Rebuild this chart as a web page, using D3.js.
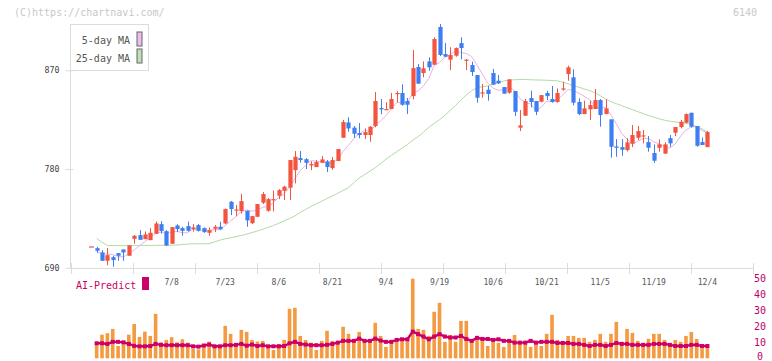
<!DOCTYPE html>
<html><head><meta charset="utf-8">
<script src="https://cdn.jsdelivr.net/npm/d3@7"></script>
<style>
body{margin:0;background:#fff}
svg{display:block}
text{font-family:"DejaVu Sans Mono",monospace}
</style>
</head><body>
<svg id="chart" width="772" height="361"></svg>
<script>
const dates = ["6/17","6/18","6/19","6/20","6/23","6/24","6/25","6/26","6/27","6/30",
"7/1","7/2","7/3","7/4","7/7","7/8","7/9","7/10","7/11","7/14","7/15","7/16","7/17","7/18","7/22","7/23",
"7/24","7/25","7/28","7/29","7/30","7/31","8/1","8/4","8/5","8/6","8/7","8/8","8/12","8/13","8/14","8/15",
"8/18","8/19","8/20","8/21","8/22","8/25","8/26","8/27","8/28","8/29","9/1","9/2","9/3","9/4","9/5","9/8",
"9/9","9/10","9/11","9/12","9/16","9/17","9/18","9/19","9/22","9/24","9/25","9/26","9/29","9/30","10/1",
"10/2","10/3","10/6","10/7","10/8","10/9","10/10","10/14","10/15","10/16","10/17","10/20","10/21","10/22",
"10/23","10/24","10/27","10/28","10/29","10/30","10/31","11/4","11/5","11/6","11/7","11/10","11/11","11/12",
"11/13","11/14","11/17","11/18","11/19","11/20","11/21","11/25","11/26","11/27","11/28","12/1","12/2","12/3","12/4"];

const open = [709.5,707.9,704,696.4,699.7,703.4,706.7,701,716.4,719.8,
716.1,715.2,721,729.8,723.4,711.9,728.6,726.2,728,725.3,
728.9,726.2,721.9,725.6,727.4,730.4,750.2,742.6,741.7,742,
730.7,736.5,749.3,742,752.3,755.7,760.2,763,779,790,
789,783.3,781.8,785.7,787,780.9,787.3,808.5,822.5,817.7,
812.8,811,811,819.2,835.6,834.1,834.7,848.7,849.3,842,
846.5,873,867.5,878.1,875.1,909.5,884.8,879.7,883.3,894.8,
879.4,874.8,865.7,849.3,852.3,867.5,860.5,854.7,849.6,851.1,
817.7,828.6,844.7,842,841.4,849.3,843.8,841.1,852.6,866.6,
863.6,841.1,830.1,834.4,834.7,842.9,830.1,825.3,800.6,800,
797.3,803.1,808.5,810,804.6,794.6,799.4,794,808.2,813.1,
818.3,822.2,831.3,819.2,804.6,800];

const high = [709.5,709.1,706.1,708,701,703.4,706.7,710.4,719.8,724.3,
723.1,726.2,732.2,732.5,724.3,727.1,729.8,727.4,732,729.8,
729.8,726.8,726.8,728.9,732,744.1,750.8,747.1,757.5,742,
737.1,748.1,759,753.5,760.5,761.7,764.8,788.2,796.4,796.4,
790,787,788.2,791.8,788.2,790.9,798.2,824.7,827.1,819.2,
821.9,817,819.2,850.2,843.8,840.8,849.3,851,857.2,844.7,
888.5,875.7,878.1,881.8,900,912.2,894.8,891,890.9,900,
880.3,877.8,865.7,857.5,855.7,871.2,865.7,854.7,861.7,851.1,
833.8,843.8,851.4,842,847.4,851.4,855.7,853.5,859.6,874.2,
870.9,844.4,842.3,842.3,852.9,843.8,843.8,825.3,807.3,807.3,
808.2,820.1,819.2,815.5,810,802.5,807,804.3,811,818.3,
824.7,830.7,831.3,819.2,808.8,814.6];

const low = [709.5,703.7,696.4,692.4,690.9,696.4,696.4,701,711.9,715.5,
716.1,715.2,721,721.3,709.8,711.9,722.5,719.2,723,723,
723,721.9,719.2,722.5,725,729.8,738,737.1,739.5,727.4,
729.8,736.5,748.1,741.1,741.4,752.6,751.7,751.7,766.9,785.7,
780,779,781.8,785.7,777.2,779.4,787.3,808.5,814,808.5,
808,807.3,804.9,818,830.1,833.8,834.7,840.8,837.7,830.1,
843.5,857.8,863.6,869.6,875.1,883,882.4,870.2,882.4,880,
870.2,864.8,840.5,845,842.3,856.9,857.5,848.7,848.7,828.3,
814.6,828.6,836.2,829.2,840.8,842.9,840.5,840.5,851.4,860.5,
838,829.2,830.1,824.7,834.7,818.6,830.1,790.3,791.2,792.1,
796.1,800,806.4,803.4,795.8,785.7,795.8,794,800.3,810,
817.1,821.6,817.7,800.3,801.9,800];

const close = [709.5,705.5,696.4,701.5,697,701,704,710.4,719.2,715.5,
720.4,721.9,730.4,723.4,710.4,727.1,725.3,723.7,723.7,726.8,
723.7,722.5,724.3,727.4,725,743.5,743.5,743.2,750.8,733.2,
737.1,748.1,757.2,752.6,752.6,760.8,763.9,788.2,791.2,788.2,
785.7,784.5,786.4,788.8,781.8,788.2,798.2,822.8,817,812.2,
811,813.7,818.6,842,834.4,834.7,843.8,849.3,838.6,838.6,
872,857.8,871.8,872.7,898.5,884,882.4,883.9,890.3,890.3,
879.7,868.4,845,849.9,848.4,856.9,858.1,848.7,861.7,832.2,
819.8,842,841.1,832.2,847.4,846.5,841.1,849.3,853.5,872.7,
840.5,830.1,835.3,838.3,842.9,829.2,835.3,800.3,799.4,797.6,
804.3,811,814.6,810.7,799.4,787.6,802.5,802.5,803.4,818.3,
823.1,830.1,818.6,801.2,801.9,813.7];

const ma5 = [null,704.5,703.0,702.5,702.0,700.3,700.0,702.8,706.3,710.0,
713.9,717.5,721.5,722.3,721.3,722.6,723.3,722.0,722.0,725.3,
724.6,724.1,724.2,724.9,724.6,728.5,732.7,736.5,741.2,742.8,
741.6,742.5,745.3,745.6,749.5,754.3,757.4,763.6,771.3,778.5,
783.4,787.6,787.2,786.7,785.4,785.9,788.7,796.0,801.6,807.7,
812.2,815.3,814.5,819.5,823.9,828.7,834.7,840.8,840.2,841.0,
848.5,851.3,855.8,862.6,874.6,877.0,881.9,884.3,887.8,886.2,
885.3,882.5,874.7,866.7,858.3,853.7,851.7,852.4,854.8,851.5,
844.1,840.9,839.4,833.5,836.5,841.8,841.7,843.3,847.6,852.6,
851.4,849.2,846.4,843.4,837.4,835.2,836.2,829.2,821.4,812.4,
807.4,802.5,805.4,807.6,808.0,804.7,803.0,800.5,799.1,802.9,
810.0,815.5,818.7,818.3,815.0,813.1];

const ma25 = [null,716.7,713.3,710.4,710.3,710.2,710.2,710.3,710.3,710.4,
710.4,710.4,710.4,710.5,710.5,710.6,710.8,711.2,711.6,711.9,
711.9,711.9,712.0,713.6,715.2,716.4,717.4,718.4,719.4,720.7,
722.1,723.6,725.1,726.9,728.6,730.6,732.8,734.9,737.3,740.5,
743.2,745.9,748.4,750.7,753.1,755.4,758.0,760.5,763.1,767.5,
771.8,775.0,778.0,781.2,784.9,789.0,792.5,795.7,799.0,802.3,
806.3,809.6,813.5,818.0,821.5,825.0,829.0,833.5,838.0,843.0,
847.5,851.5,854.1,855.0,855.9,857.4,858.9,860.3,861.2,861.4,
861.7,861.6,861.4,861.2,861.1,860.9,860.7,860.4,859.1,857.7,
856.0,854.6,853.0,851.5,849.6,846.8,843.8,841.4,839.6,837.8,
835.8,834.2,832.3,830.6,828.8,827.3,825.8,824.5,823.6,822.9,
822.3,821.7,820.6,818.6,816.6,813.9];

const volume = [null,10.2,14.8,15.7,18.4,7.7,10.2,14.8,21.5,13.4,
16.7,14.0,27.8,10.0,11.5,13.2,10.0,11.9,9.8,6.0,
5.6,8.9,10.4,7.7,7.7,20.3,15.3,9.6,17.8,16.5,
11.5,10.5,10.9,7.7,5.2,9.0,11.5,31.0,31.6,14.0,
11.5,9.8,5.2,10.9,17.2,10.9,10.3,19.7,15.3,12.1,
16.5,10.3,10.9,22.2,14.0,7.1,9.6,10.9,11.2,12.0,
49.8,18.4,17.8,14.0,29.1,34.7,10.3,14.6,10.3,23.4,
23.4,10.3,11.5,13.4,7.7,10.9,9.6,7.1,11.5,14.6,
10.3,10.9,7.1,10.9,7.7,15.3,27.2,11.5,10.9,14.0,
14.0,12.8,12.8,10.3,11.5,15.3,10.3,15.3,22.8,10.3,
18.4,15.9,10.9,7.7,12.2,15.3,15.3,11.5,8.0,11.5,
10.3,14.0,16.5,12.1,8.0,7.7];

const aiPredict = [null,9.4,9.4,9.0,10.3,10.3,10.0,9.0,7.8,7.5,
7.5,7.7,9.0,8.4,8.2,8.2,8.2,8.2,8.2,7.5,
7.3,8.0,8.6,7.5,7.5,8.2,8.2,8.4,9.0,7.9,
8.6,7.7,8.2,7.5,7.5,7.5,7.7,9.4,10.3,9.0,
8.6,8.2,8.2,8.2,8.4,9.0,9.8,10.9,10.9,10.9,
12.3,10.9,10.9,12.3,11.1,10.3,10.3,11.5,11.9,11.9,
16.7,15.1,13.6,11.9,13.6,15.1,13.6,13.0,13.0,14.0,
12.1,10.9,12.8,12.1,12.1,11.5,11.9,10.9,10.9,9.8,
9.8,9.8,10.9,9.8,10.3,10.3,10.3,9.6,9.6,9.6,
9.0,9.0,8.4,7.7,8.4,8.4,7.7,8.4,9.6,9.0,
9.0,8.4,8.4,8.4,8.4,9.0,9.0,9.0,8.4,7.7,
7.7,7.7,8.4,8.4,7.7,7.7];

const priceTicks = [690, 780, 870];
const volTicks = [0, 10, 20, 30, 40, 50];
const dateLabels = ["7/8","7/23","8/6","8/21","9/4","9/19","10/6","10/21","11/5","11/19","12/4"];
const legendItems = [{label:"5-day MA", color:"#f0bcf0"}, {label:"25-day MA", color:"#bfe0b4"}];

const RED = "#f2543f", BLUE = "#3f7ef0", ORANGE = "#f39a42", MAG = "#cc0066";
const PINK = "#e8b2e8", GREEN = "#b2dba6", GRID = "#dcdcdc";

const svg = d3.select("#chart");
const x = d3.scalePoint().domain(dates).range([91.3, 707.4]);
const y = d3.scaleLinear().domain([690, 870]).range([267.8, 70.3]);
const yv = d3.scaleLinear().domain([0, 50]).range([358.3, 278.4]);
const grid = d3.scaleLinear().domain([0, 11]).range([70.5, 752.5]);

// watermark & code
svg.append("text").attr("x", 14).attr("y", 15.5).attr("font-size", 10).attr("fill", "#c8c8c8").text("(C)https://chartnavi.com/");
svg.append("text").attr("x", 733).attr("y", 15.5).attr("font-size", 10).attr("fill", "#c8c8c8").text("6140");

// axes lines
svg.append("line").attr("x1", 70.5).attr("x2", 70.5).attr("y1", 24).attr("y2", 268).attr("stroke", GRID);
svg.append("line").attr("x1", 70).attr("x2", 753).attr("y1", 268.5).attr("y2", 268.5).attr("stroke", GRID);
svg.append("g").selectAll("line").data(d3.range(12)).join("line")
  .attr("x1", d => Math.round(grid(d)) + 0.5).attr("x2", d => Math.round(grid(d)) + 0.5)
  .attr("y1", 263).attr("y2", 274).attr("stroke", GRID);

// left axis
const ya = svg.append("g").attr("transform", "translate(70.5,0)")
  .call(d3.axisLeft(y).tickValues(priceTicks).tickSizeInner(5).tickSizeOuter(0).tickPadding(6));
ya.select(".domain").remove();
ya.selectAll(".tick line").attr("stroke", GRID).attr("x1", 3).attr("x2", -5);
ya.selectAll(".tick text").attr("font-family", "DejaVu Sans Mono").attr("font-size", 8.3).attr("fill", "#444");

// date labels
svg.append("g").selectAll("text").data(dateLabels).join("text")
  .attr("x", d => x(d)).attr("y", 285).attr("text-anchor", "middle")
  .attr("font-size", 8).attr("fill", "#555").text(d => d);

// MA lines
const idx = d3.range(dates.length);
const maLine = arr => d3.line().defined(i => arr[i] != null).x(i => x(dates[i])).y(i => y(arr[i]));
svg.append("path").attr("d", maLine(ma25)(idx)).attr("fill", "none").attr("stroke", GREEN).attr("stroke-width", 1);
svg.append("path").attr("d", maLine(ma5)(idx)).attr("fill", "none").attr("stroke", PINK).attr("stroke-width", 1);

// candles
const cg = svg.append("g");
idx.forEach(i => {
  const cx = Math.round(x(dates[i])) + 0.5;
  const up = close[i] >= open[i];
  const col = up ? RED : BLUE;
  if (high[i] > low[i]) {
    cg.append("line").attr("x1", cx).attr("x2", cx).attr("y1", y(high[i])).attr("y2", y(low[i]))
      .attr("stroke", col).attr("stroke-width", 1);
  }
  const top = y(Math.max(open[i], close[i])), bot = y(Math.min(open[i], close[i]));
  const w = i === 0 ? 5 : 4.2;
  cg.append("rect").attr("x", cx - w / 2).attr("y", top).attr("width", w)
    .attr("height", Math.max(1.2, bot - top)).attr("fill", col);
});

// legend
const lg = svg.append("g");
lg.append("rect").attr("x", 70.5).attr("y", 24.5).attr("width", 78).attr("height", 46)
  .attr("fill", "#fff").attr("stroke", GRID);
legendItems.forEach((d, k) => {
  lg.append("text").attr("x", 130).attr("y", 44.3 + k * 17.3).attr("text-anchor", "end")
    .attr("font-size", 10).attr("fill", "#555").text(d.label);
  lg.append("rect").attr("x", 137).attr("y", 32 + k * 17).attr("width", 5).attr("height", 14)
    .attr("fill", d.color).attr("stroke", "#666").attr("stroke-width", 1);
});

// volume bars
svg.append("g").selectAll("rect").data(idx.filter(i => volume[i] != null)).join("rect")
  .attr("x", i => x(dates[i]) - 1.8).attr("width", 3.6)
  .attr("y", i => yv(volume[i])).attr("height", i => yv(0) - yv(volume[i]))
  .attr("fill", ORANGE);

// AI predict
const aiIdx = idx.filter(i => aiPredict[i] != null);
svg.append("path").attr("d", d3.line().x(i => x(dates[i])).y(i => yv(aiPredict[i]))(aiIdx))
  .attr("fill", "none").attr("stroke", MAG).attr("stroke-width", 2.4);
svg.append("g").selectAll("rect").data(aiIdx).join("rect")
  .attr("x", i => x(dates[i]) - 2).attr("y", i => yv(aiPredict[i]) - 2)
  .attr("width", 4).attr("height", 4).attr("fill", MAG);

// right axis labels
svg.append("g").selectAll("text").data(volTicks).join("text")
  .attr("x", 760).attr("y", d => Math.min(yv(d) + 3.6, 359.5)).attr("text-anchor", "middle")
  .attr("font-size", 10).attr("fill", "#c0006a").text(d => d);

// AI-Predict legend
svg.append("text").attr("x", 76).attr("y", 289.3).attr("font-size", 10).attr("fill", MAG).text("AI-Predict");
svg.append("rect").attr("x", 142).attr("y", 277).attr("width", 7).attr("height", 13).attr("fill", MAG);
</script>
</body></html>
